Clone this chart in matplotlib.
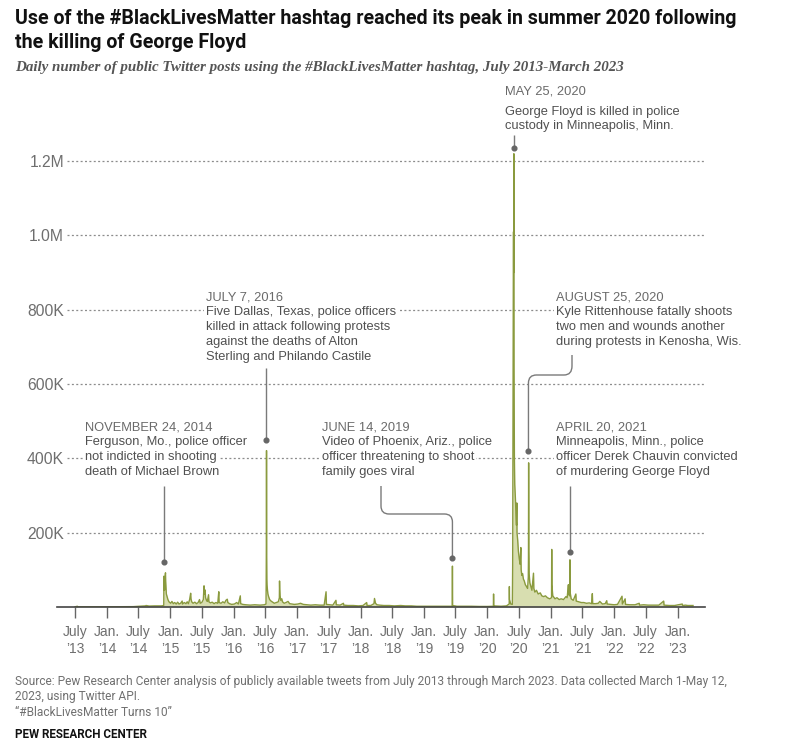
"""#BlackLivesMatter daily posts, July 2013 - March 2023 (Pew-style area chart)."""

import matplotlib

matplotlib.use("Agg")

import matplotlib.dates as mdates
import matplotlib.pyplot as plt
import numpy as np
from matplotlib.patches import PathPatch
from matplotlib.path import Path
from matplotlib.transforms import Affine2D

# ---- data (daily posts, thousands) ----
BLM_DATES = [
    "2013-07-01", "2013-07-14", "2013-07-16", "2013-12-01", "2014-06-01", "2014-08-10", "2014-08-14",
    "2014-09-01", "2014-10-01", "2014-11-10", "2014-11-24", "2014-11-25", "2014-11-26", "2014-11-28",
    "2014-12-01", "2014-12-03", "2014-12-04", "2014-12-05", "2014-12-07", "2014-12-09", "2014-12-13",
    "2014-12-18", "2014-12-24", "2015-01-03", "2015-01-10", "2015-01-18", "2015-01-26", "2015-02-04",
    "2015-02-12", "2015-02-20", "2015-03-01", "2015-03-10", "2015-03-12", "2015-03-22", "2015-04-01",
    "2015-04-08", "2015-04-15", "2015-04-22", "2015-04-25", "2015-04-28", "2015-04-30", "2015-05-04",
    "2015-05-12", "2015-05-22", "2015-06-01", "2015-06-10", "2015-06-18", "2015-06-22", "2015-07-01",
    "2015-07-10", "2015-07-14", "2015-07-16", "2015-07-20", "2015-07-23", "2015-07-28", "2015-08-02",
    "2015-08-09", "2015-08-11", "2015-08-20", "2015-08-30", "2015-09-10", "2015-09-20", "2015-10-01",
    "2015-10-07", "2015-10-09", "2015-10-20", "2015-10-30", "2015-11-10", "2015-11-17", "2015-11-25",
    "2015-11-28", "2015-12-08", "2015-12-20", "2016-01-05", "2016-01-18", "2016-01-28", "2016-02-08",
    "2016-02-10", "2016-02-22", "2016-03-10", "2016-04-05", "2016-05-01", "2016-06-01", "2016-06-25",
    "2016-07-05", "2016-07-06", "2016-07-07", "2016-07-08", "2016-07-09", "2016-07-10", "2016-07-11",
    "2016-07-13", "2016-07-16", "2016-07-20", "2016-07-26", "2016-08-03", "2016-08-12", "2016-08-22",
    "2016-09-02", "2016-09-14", "2016-09-20", "2016-09-21", "2016-09-22", "2016-09-24", "2016-09-28",
    "2016-10-04", "2016-10-08", "2016-10-18", "2016-10-28", "2016-11-09", "2016-11-18", "2016-12-01",
    "2016-12-15", "2017-01-05", "2017-01-20", "2017-02-05", "2017-02-25", "2017-03-20", "2017-04-15",
    "2017-05-10", "2017-06-05", "2017-06-16", "2017-06-18", "2017-07-05", "2017-07-25", "2017-08-12",
    "2017-08-14", "2017-09-05", "2017-09-24", "2017-09-26", "2017-10-20", "2017-11-20", "2017-12-20",
    "2018-01-15", "2018-02-05", "2018-02-07", "2018-03-01", "2018-03-19", "2018-03-22", "2018-03-25",
    "2018-03-28", "2018-04-05", "2018-04-20", "2018-05-15", "2018-06-15", "2018-07-15", "2018-08-20",
    "2018-09-15", "2018-10-20", "2018-11-20", "2018-12-20", "2019-02-01", "2019-03-15", "2019-05-01",
    "2019-06-13", "2019-06-14", "2019-06-15", "2019-07-10", "2019-08-20", "2019-10-01", "2019-11-15",
    "2020-01-01", "2020-02-05", "2020-02-06", "2020-02-07", "2020-03-20", "2020-04-20", "2020-05-06",
    "2020-05-07", "2020-05-08", "2020-05-15", "2020-05-24", "2020-05-26", "2020-05-27", "2020-05-28",
    "2020-05-29", "2020-05-30", "2020-05-31", "2020-06-01", "2020-06-02", "2020-06-03", "2020-06-04",
    "2020-06-05", "2020-06-06", "2020-06-07", "2020-06-09", "2020-06-11", "2020-06-14", "2020-06-17",
    "2020-06-19", "2020-06-20", "2020-06-24", "2020-06-28", "2020-07-03", "2020-07-08", "2020-07-12",
    "2020-07-14", "2020-07-18", "2020-07-22", "2020-07-27", "2020-08-01", "2020-08-07", "2020-08-14",
    "2020-08-20", "2020-08-24", "2020-08-25", "2020-08-26", "2020-08-27", "2020-08-29", "2020-09-02",
    "2020-09-08", "2020-09-14", "2020-09-23", "2020-09-25", "2020-10-01", "2020-10-10", "2020-10-20",
    "2020-11-01", "2020-11-10", "2020-11-20", "2020-12-01", "2020-12-12", "2020-12-25", "2021-01-05",
    "2021-01-06", "2021-01-07", "2021-01-12", "2021-01-25", "2021-02-05", "2021-02-18", "2021-03-01",
    "2021-03-15", "2021-03-29", "2021-04-05", "2021-04-12", "2021-04-14", "2021-04-19", "2021-04-21",
    "2021-04-22", "2021-04-28", "2021-05-10", "2021-05-25", "2021-05-27", "2021-06-10", "2021-06-25",
    "2021-07-10", "2021-07-25", "2021-08-10", "2021-08-24", "2021-08-28", "2021-08-30", "2021-09-15",
    "2021-10-01", "2021-10-10", "2021-10-25", "2021-11-10", "2021-11-19", "2021-11-21", "2021-12-10",
    "2022-01-01", "2022-01-20", "2022-02-15", "2022-02-17", "2022-03-05", "2022-03-07", "2022-04-01",
    "2022-05-01", "2022-05-25", "2022-05-27", "2022-06-20", "2022-07-15", "2022-08-15", "2022-09-15",
    "2022-10-13", "2022-10-15", "2022-11-15", "2022-12-15", "2023-01-28", "2023-01-30", "2023-02-15",
    "2023-03-01", "2023-03-31",
]
BLM_POSTS_K = [
    0.5, 2, 0.5, 0.5, 1, 3, 4,
    2.5, 3, 3, 4, 83, 65, 45,
    50, 88, 92, 70, 52, 35, 28,
    20, 14, 10, 15, 9, 12, 8,
    13, 8, 10, 16, 8, 12, 9,
    14, 9, 20, 28, 37, 22, 14,
    10, 13, 9, 12, 20, 10, 12,
    20, 57, 35, 46, 25, 18, 15,
    33, 14, 11, 13, 9, 12, 10,
    41, 12, 10, 14, 11, 18, 21,
    12, 9, 7, 8, 12, 8, 30,
    9, 7, 6, 5, 6, 5, 6,
    8, 60, 160, 421, 140, 75, 60,
    48, 35, 28, 20, 16, 13, 10,
    12, 14, 25, 70, 48, 30, 18,
    22, 14, 10, 12, 15, 9, 8,
    7, 8, 10, 7, 6, 5, 6,
    5, 5, 41, 7, 6, 5, 18,
    6, 5, 10, 5, 4, 4, 3,
    4, 12, 4, 4, 9, 23, 16,
    10, 6, 5, 4, 4, 3, 4,
    3, 3, 2, 2, 2, 2, 2,
    2, 110, 4, 2, 2, 2, 1.5,
    1.5, 2, 35, 3, 2, 3, 8,
    55, 20, 8, 7, 110, 330, 640,
    860, 930, 1010, 900, 1220, 640, 470,
    400, 350, 330, 310, 290, 250, 220,
    280, 200, 180, 150, 130, 115, 160,
    100, 85, 90, 75, 70, 60, 55,
    50, 80, 130, 388, 150, 90, 65,
    55, 45, 91, 50, 40, 45, 35,
    38, 30, 28, 30, 25, 22, 25,
    155, 60, 30, 22, 25, 20, 22,
    20, 28, 25, 60, 35, 30, 127,
    40, 22, 18, 35, 16, 14, 12,
    12, 10, 11, 9, 36, 9, 9,
    10, 15, 8, 9, 17, 8, 7,
    6, 7, 29, 8, 22, 7, 6,
    6, 10, 5, 6, 5, 5, 5,
    16, 5, 4, 4, 8, 4, 5,
    4, 4,
]
TICK_DATES = ["2013-07-01", "2014-01-01", "2014-07-01", "2015-01-01", "2015-07-01", "2016-01-01",
              "2016-07-01", "2017-01-01", "2017-07-01", "2018-01-01", "2018-07-01", "2019-01-01",
              "2019-07-01", "2020-01-01", "2020-07-01", "2021-01-01", "2021-07-01", "2022-01-01",
              "2022-07-01", "2023-01-01"]
TICK_LABELS = ["July\n’13", "Jan.\n’14", "July\n’14", "Jan.\n’15", "July\n’15", "Jan.\n’16",
               "July\n’16", "Jan.\n’17", "July\n’17", "Jan.\n’18", "July\n’18", "Jan.\n’19",
               "July\n’19", "Jan.\n’20", "July\n’20", "Jan.\n’21", "July\n’21", "Jan.\n’22",
               "July\n’22", "Jan.\n’23"]
Y_TICKS = [200000, 400000, 600000, 800000, 1000000, 1200000]
Y_LABELS = ["200K", "400K", "600K", "800K", "1.0M", "1.2M"]

EVENT_DATES = ["2014-11-24", "2016-07-07", "2019-06-14", "2020-05-25", "2020-08-25", "2021-04-20"]
EVENT_HEADERS = ["NOVEMBER 24, 2014", "JULY 7, 2016", "JUNE 14, 2019", "MAY 25, 2020",
                 "AUGUST 25, 2020", "APRIL 20, 2021"]
EVENT_TEXTS = [
    ["Ferguson, Mo., police officer", "not indicted in shooting", "death of Michael Brown"],
    ["Five Dallas, Texas, police officers", "killed in attack following protests",
     "against the deaths of Alton", "Sterling and Philando Castile"],
    ["Video of Phoenix, Ariz., police", "officer threatening to shoot", "family goes viral"],
    ["George Floyd is killed in police", "custody in Minneapolis, Minn."],
    ["Kyle Rittenhouse fatally shoots", "two men and wounds another", "during protests in Kenosha, Wis."],
    ["Minneapolis, Minn., police", "officer Derek Chauvin convicted", "of murdering George Floyd"],
]

# ---- layout (pixels from the top-left of the 788x750 canvas) ----
W, H = 788, 750
LINE_C, FILL_C = "#8a9a3e", "#d8deb0"
SANS = ["Liberation Sans", "DejaVu Sans"]
NARROW = ["Roboto", "DejaVu Sans"]
# (text left, header y, first body line y)
EVENT_TEXT_POS = [(85, 427.5, 442.5), (206, 297.5, 312.5), (322, 427.5, 442.5),
                  (505, 91.5, 111.5), (556, 297.5, 312.5), (556, 427.5, 442.5)]

fig = plt.figure(figsize=(W / 100, H / 100), dpi=100)
ax = fig.add_axes([57 / W, 143 / H, 648 / W, 483 / H])
pix = Affine2D().scale(1 / W, -1 / H).translate(0, 1) + fig.transFigure

dates = mdates.date2num(np.array(BLM_DATES, dtype="datetime64[D]"))
posts = np.array(BLM_POSTS_K) * 1000
ax.fill_between(dates, posts, color=FILL_C, lw=0, zorder=2)
ax.plot(dates, posts, color=LINE_C, lw=1.0, zorder=3)

ax.set_xlim(mdates.date2num(np.datetime64("2013-03-19")), mdates.date2num(np.datetime64("2023-06-08")))
ax.set_ylim(0, 1300000)
for side in ("top", "right", "left"):
    ax.spines[side].set_visible(False)
ax.spines["bottom"].set_color("#444444")
ax.spines["bottom"].set_linewidth(1.2)
ax.spines["bottom"].set_zorder(4)

ax.set_xticks(mdates.date2num(np.array(TICK_DATES, dtype="datetime64[D]")))
ax.set_xticklabels(TICK_LABELS, family=SANS, fontsize=10, color="#6e6e6e", linespacing=1.25)
ax.tick_params(axis="x", length=8, width=1, color="#666666", pad=5)
ax.set_yticks(Y_TICKS)
ax.set_yticklabels(Y_LABELS, family=SANS, fontsize=11.3, color="#6e6e6e")
ax.tick_params(axis="y", length=0, pad=-5)
for v in Y_TICKS:
    ax.axhline(v, xmin=10 / 648, xmax=1, color="#8c8c8c", lw=0.9, ls=(0, (1.6, 1.9)), zorder=1)

# ---- annotations ----
for d, head, body, (tx, hy, by) in zip(EVENT_DATES, EVENT_HEADERS, EVENT_TEXTS, EVENT_TEXT_POS):
    bb = dict(facecolor="white", edgecolor="none", pad=1.5)
    ax.text(tx, hy, head, transform=pix, family=SANS, fontsize=9.3, color="#6a6a6a",
            va="center", ha="left", bbox=bb, zorder=5, clip_on=False)
    for i, line in enumerate(body):
        ax.text(tx, by + i * 14.8, line, transform=pix, family=SANS, fontsize=9.3, color="#505050",
                va="center", ha="left", bbox=bb, zorder=5, clip_on=False)

ex = [ax.transData.transform((mdates.date2num(np.datetime64(d)), 0))[0] for d in EVENT_DATES]
C, M, L = Path.CURVE3, Path.MOVETO, Path.LINETO
connectors = [
    ([(ex[0], 486), (ex[0], 562)], [M, L]),
    ([(ex[1], 368), (ex[1], 440)], [M, L]),
    ([(381, 486), (381, 506), (381, 514), (389, 514), (ex[2] - 8, 514), (ex[2], 514), (ex[2], 522), (ex[2], 558)],
     [M, L, C, C, L, C, C, L]),
    ([(ex[3] + 2, 135), (ex[3] + 2, 148)], [M, L]),
    ([(572, 355), (572, 366), (572, 375), (564, 375), (ex[4] + 8, 375), (ex[4], 375), (ex[4], 383), (ex[4], 451)],
     [M, L, C, C, L, C, C, L]),
    ([(ex[5], 486), (ex[5], 552)], [M, L]),
]
for verts, codes in connectors:
    ax.add_patch(PathPatch(Path(verts, codes), transform=pix, fill=False, edgecolor="#7a7a7a",
                           lw=1.0, zorder=5, clip_on=False))
    ax.plot([verts[-1][0]], [verts[-1][1]], "o", ms=3.4, color="#666666", transform=pix,
            zorder=6, clip_on=False)

# ---- titles and notes ----
fig.text(15 / W, 1 - 18 / H, "Use of the #BlackLivesMatter hashtag reached its peak in summer 2020 following",
         family=NARROW, weight="bold", fontsize=14.1, color="#111111", va="center")
fig.text(15 / W, 1 - 43 / H, "the killing of George Floyd", family=NARROW, weight="bold",
         fontsize=14.1, color="#111111", va="center")
fig.text(15 / W, 1 - 68 / H,
         "Daily number of public Twitter posts using the #BlackLivesMatter hashtag, July 2013-March 2023",
         family=["Liberation Serif", "DejaVu Serif"], style="italic", weight="bold", fontsize=10.8,
         color="#555555", va="center")
notes = ["Source: Pew Research Center analysis of publicly available tweets from July 2013 through March 2023. "
         "Data collected March 1-May 12,", "2023, using Twitter API.", "“#BlackLivesMatter Turns 10”"]
for i, s in enumerate(notes):
    fig.text(15 / W, 1 - (681 + i * 15.5) / H, s, family=NARROW, fontsize=8.6, color="#707070", va="center")
fig.text(15 / W, 1 - 734 / H, "PEW RESEARCH CENTER", family=NARROW, weight="bold", fontsize=8.4,
         color="#111111", va="center")

fig.savefig("out.png", dpi=100)
